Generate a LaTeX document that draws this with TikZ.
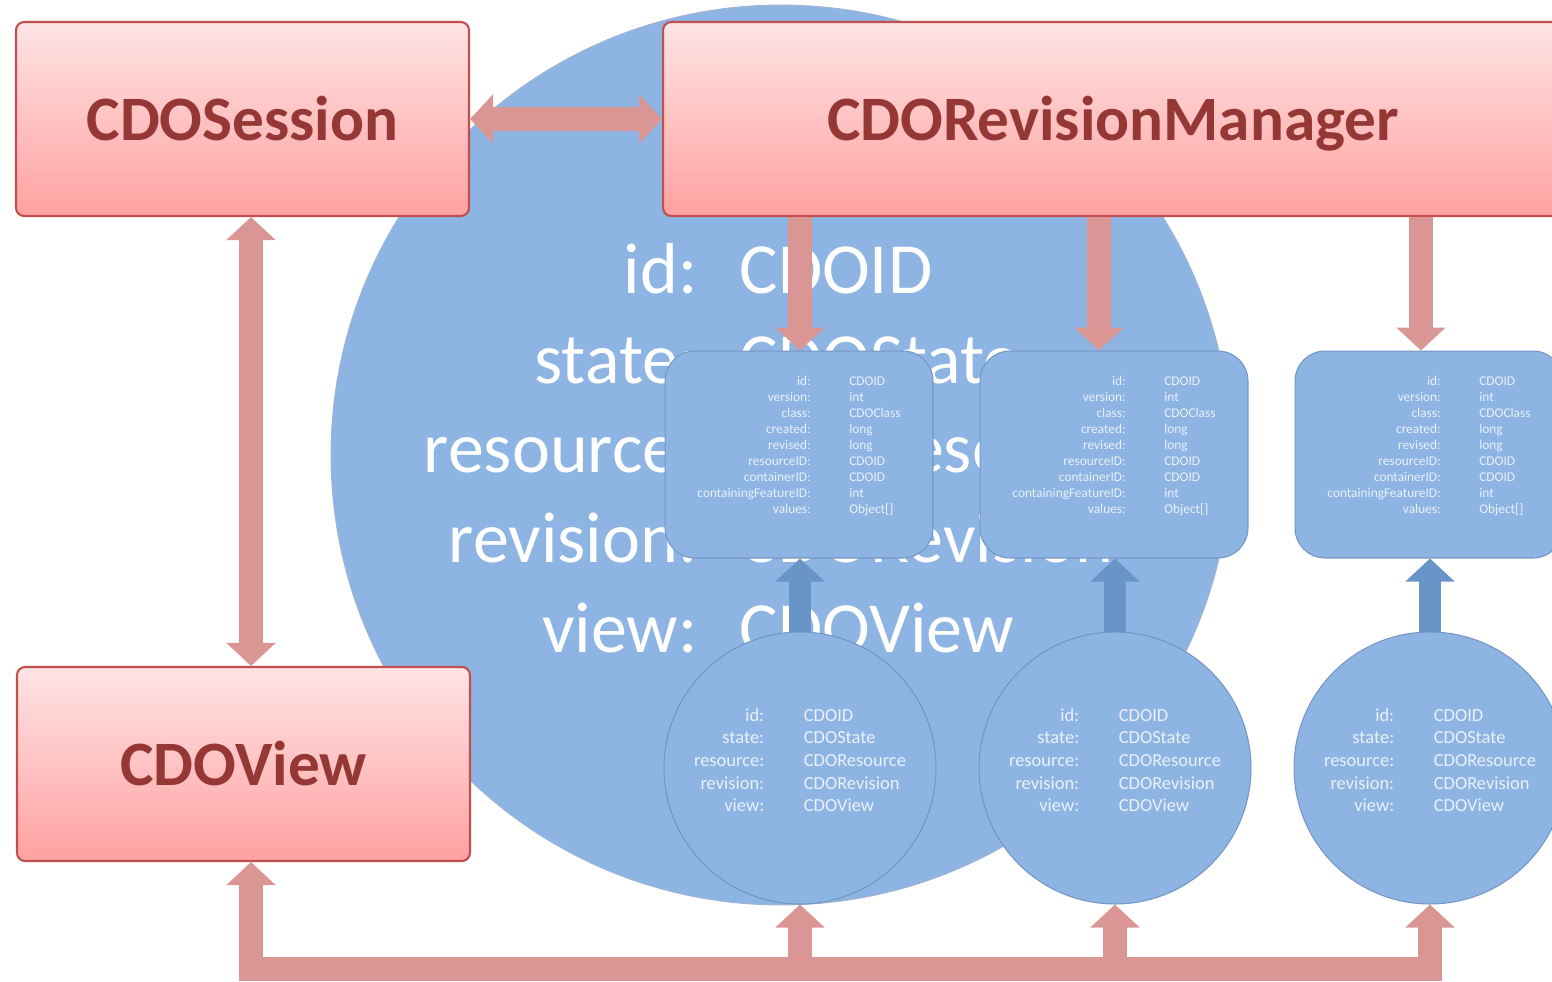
\documentclass[tikz,border=0pt]{standalone}
\usepackage{fontspec}
\setmainfont{Carlito}
\usetikzlibrary{arrows.meta,positioning}
\definecolor{objblue}{RGB}{142,180,227}
\definecolor{objedge}{RGB}{116,150,196}
\definecolor{arrowblue}{RGB}{104,148,199}
\definecolor{arrowred}{RGB}{217,150,148}
\definecolor{clsedge}{RGB}{192,80,77}
\definecolor{clstext}{RGB}{149,55,53}
\definecolor{clstop}{RGB}{255,228,228}
\definecolor{clsbottom}{RGB}{255,161,161}
\definecolor{txtlight}{RGB}{234,241,250}

\newcommand{\objfields}{\fontsize{41pt}{51.2pt}\selectfont
  \begin{tabular}{@{}r@{\hspace{24pt}}l@{}}
    id: & CDOID\\ state: & CDOState\\ resource: & CDOResource\\
    revision: & CDORevision\\ view: & CDOView
  \end{tabular}}
\newcommand{\instfields}{\fontsize{10.5pt}{12.9pt}\selectfont
  \begin{tabular}{@{}r@{\hspace{22.6pt}}l@{}}
    id: & CDOID\\ state: & CDOState\\ resource: & CDOResource\\
    revision: & CDORevision\\ view: & CDOView\\[6.8pt]
  \end{tabular}}
\newcommand{\revfields}{\fontsize{7.6pt}{9.1pt}\selectfont
  \begin{tabular}{@{}r@{\hspace{22pt}}l@{}}
    id: & CDOID\\ version: & int\\ class: & CDOClass\\ created: & long\\
    revised: & long\\ resourceID: & CDOID\\ containerID: & CDOID\\
    containingFeatureID: & int\\ values: & Object[]\\ &
  \end{tabular}}

\begin{document}
\begin{tikzpicture}[x=0.02cm,y=-0.02cm,
    cls/.style={draw=clsedge, line width=1.2pt, rounded corners=0.16cm,
      top color=clstop, bottom color=clsbottom, text=clstext,
      font=\bfseries\fontsize{36pt}{40pt}\selectfont,
      text height=0.86cm, text depth=0cm,
      minimum width=9.06cm, minimum height=3.88cm, inner sep=0pt},
    rev/.style={draw=objedge, line width=0.6pt, fill=objblue, rounded corners=0.6cm,
      text=txtlight, minimum width=5.36cm, minimum height=4.14cm, inner sep=0pt},
    inst/.style={circle, draw=objedge, line width=0.6pt, fill=objblue,
      text=txtlight, minimum size=5.44cm, inner sep=0pt},
    obj/.style={circle, draw=objedge!70, line width=0.6pt, fill=objblue,
      text=white, minimum size=18cm, inner sep=0pt},
    fatred/.style={draw=arrowred, line width=0.48cm},
    fatblue/.style={draw=arrowblue, line width=0.44cm},
    >={Triangle[width=0.96cm,length=0.46cm]}]
  \useasboundingbox (0,0) rectangle (1552,981);
  \clip (0,0) rectangle (1552,981);

  % the object in the back
  \node[obj] (obj) at (781,455) {\objfields};

  % classes
  \node[cls] (session) at (242.5,119) {CDOSession};
  \node[cls, minimum width=18cm] (manager) at (1113,119) {CDORevisionManager};
  \node[cls] (view) at (243.5,764) {CDOView};

  % revisions and objects
  \foreach \i/\x in {1/799,2/1114,3/1429} {
    \node[rev] (r\i) at (\x,454.5) {\revfields};
    \node[inst] (c\i) at (\x+1,768) {\instfields};
  }

  \coordinate (vline) at (251,0);
  \coordinate (bus) at (0,969);
  \coordinate (d1) at ([xshift=0.02cm]r1.north);
  \coordinate (d2) at ([xshift=-0.3cm]r2.north);
  \coordinate (d3) at ([xshift=-0.16cm]r3.north);

  \draw[fatred,<->] (session) -- (manager);
  \draw[fatred,<->] (session.south -| vline) -- (view.north -| vline);
  \foreach \i in {1,2,3} {
    \draw[fatred,->] (manager.south -| d\i) -- (d\i);
    \draw[fatblue,->] (c\i.north) -- (r\i.south -| c\i.north);
  }
  \draw[fatred,<->] (view.south -| vline) |- (bus -| c3.south) -- (c3.south);
  \draw[fatred,->] (bus -| c1.south) -- (c1.south);
  \draw[fatred,->] (bus -| c2.south) -- (c2.south);
\end{tikzpicture}
\end{document}
